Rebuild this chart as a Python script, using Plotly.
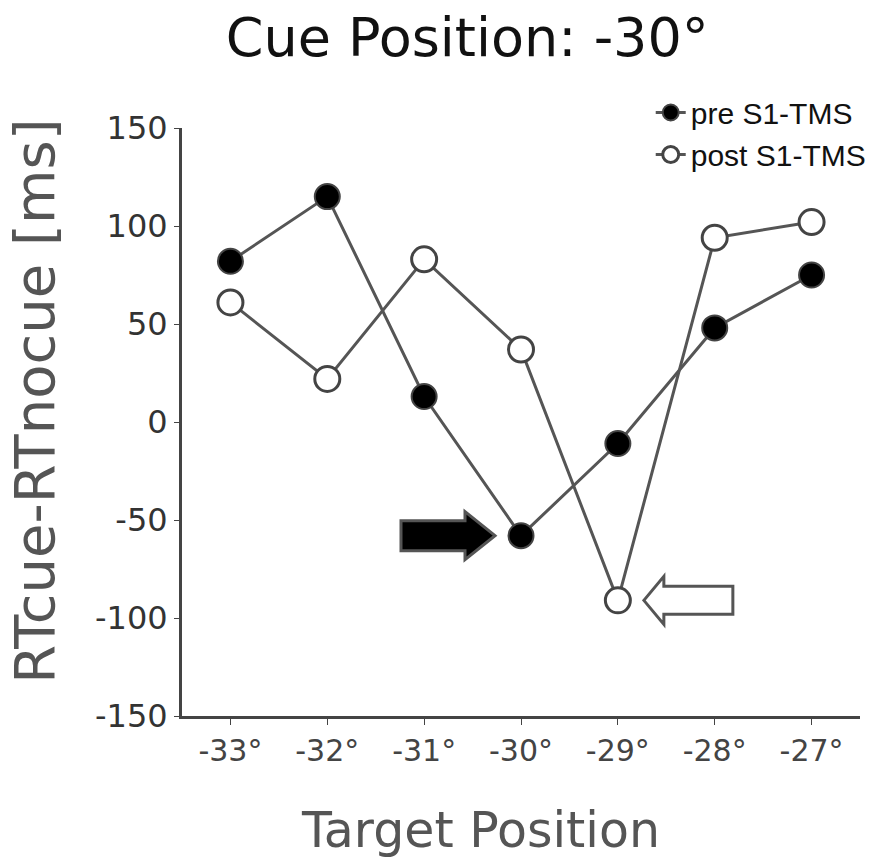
import plotly.graph_objects as go

# Target positions and reaction-time differences (RTcue - RTnocue, ms)
target_positions = ["-33°", "-32°", "-31°", "-30°", "-29°", "-28°", "-27°"]
pre_tms = [82, 115, 13, -58, -11, 48, 75]
post_tms = [61, 22, 83, 37, -91, 94, 102]
y_ticks = [-150, -100, -50, 0, 50, 100, 150]
y_tick_text = ["-150", "-100", "-50", "0", "50", "100", "150"]

x_idx = list(range(len(target_positions)))

line_color = "#555555"
fig = go.Figure()

fig.add_trace(go.Scatter(
    x=x_idx, y=pre_tms, name="pre S1-TMS", mode="lines+markers",
    line=dict(color=line_color, width=3),
    marker=dict(symbol="circle", size=25, color="black",
                line=dict(color="#444444", width=2)),
))
fig.add_trace(go.Scatter(
    x=x_idx, y=post_tms, name="post S1-TMS", mode="lines+markers",
    line=dict(color=line_color, width=3),
    marker=dict(symbol="circle", size=25, color="white",
                line=dict(color="#444444", width=3)),
))


def block_arrow(tip, head_base, tail, head_half, body_half):
    """Block-arrow outline in pixel offsets (x along the arrow, y up)."""
    return (f"M {tip},0 L {head_base},{head_half} L {head_base},{body_half} "
            f"L {tail},{body_half} L {tail},{-body_half} L {head_base},{-body_half} "
            f"L {head_base},{-head_half} Z")


# Filled arrow pointing at the pre-TMS dip at -30°
i_pre = target_positions.index("-30°")
fig.add_shape(
    type="path", xref="x", yref="y", xsizemode="pixel", ysizemode="pixel",
    xanchor=x_idx[i_pre], yanchor=pre_tms[i_pre],
    path=block_arrow(-26, -56, -120, 24, 15),
    fillcolor="black", line=dict(color="#555555", width=3), layer="above",
)
# Open arrow pointing at the post-TMS dip at -29°
i_post = target_positions.index("-29°")
fig.add_shape(
    type="path", xref="x", yref="y", xsizemode="pixel", ysizemode="pixel",
    xanchor=x_idx[i_post], yanchor=post_tms[i_post],
    path=block_arrow(26, 46, 115, 24, 14),
    fillcolor="white", line=dict(color="#555555", width=3), layer="above",
)

# Axis titles placed as annotations
fig.add_annotation(
    text="RTcue-RTnocue [ms]", xref="paper", yref="paper",
    x=-0.217, y=0.536, xanchor="center", yanchor="middle",
    textangle=-90, showarrow=False,
    font=dict(size=56, color="#555555", family="DejaVu Sans"),
)
fig.add_annotation(
    text="Target Position", xref="paper", yref="paper",
    x=0.44, y=-0.194, xanchor="center", yanchor="middle",
    showarrow=False,
    font=dict(size=49, color="#555555", family="DejaVu Sans"),
)

fig.update_layout(
    width=885, height=865,
    margin=dict(l=182, r=25, t=128, b=149, autoexpand=False),
    paper_bgcolor="white", plot_bgcolor="white",
    font=dict(family="DejaVu Sans", color="#333333"),
    title=dict(text="Cue Position: -30°", x=0.528, xref="container",
               y=0.957, yref="container", xanchor="center", yanchor="middle",
               font=dict(size=54, color="#111111", family="DejaVu Sans")),
    showlegend=True,
    legend=dict(xref="container", yref="container", x=0.985, y=0.9,
                xanchor="right", yanchor="top",
                font=dict(size=30, family="Liberation Sans", color="#111111"),
                bgcolor="rgba(0,0,0,0)", itemwidth=30, tracegroupgap=0),
    xaxis=dict(
        range=[-0.5, 6.5], tickmode="array", tickvals=x_idx,
        ticktext=target_positions, showgrid=False, zeroline=False,
        showline=True, linecolor="#444444", linewidth=3,
        ticks="outside", ticklen=6, tickcolor="#444444", tickangle=0,
        tickfont=dict(size=30, color="#444444"),
    ),
    yaxis=dict(
        range=[-150, 150], tickmode="array", tickvals=y_ticks,
        ticktext=y_tick_text,
        showgrid=False, zeroline=False,
        showline=True, linecolor="#444444", linewidth=3,
        ticks="outside", ticklen=5, tickcolor="#444444",
        tickfont=dict(size=32, color="#333333"),
    ),
)

fig.write_html("out.html")
